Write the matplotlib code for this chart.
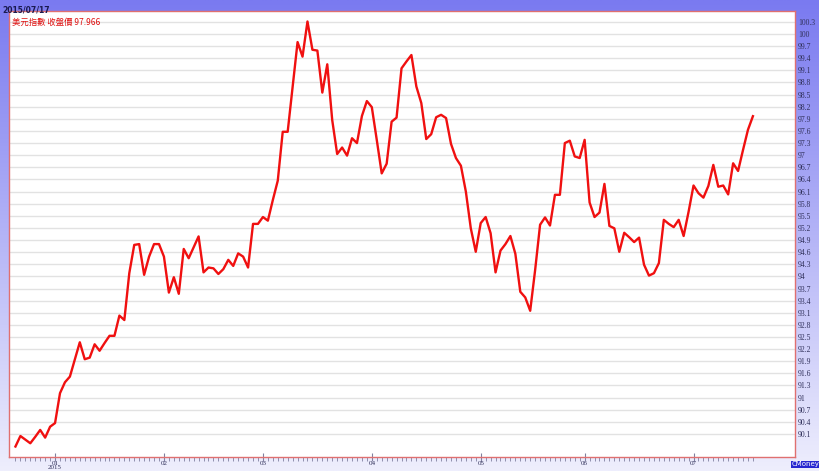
import matplotlib
matplotlib.use("Agg")
import matplotlib.pyplot as plt
import numpy as np

# weekday index 0 = 2014/12/22 ... 149 = 2015/07/17
close = [89.79, 90.05, 89.96, 89.87, 90.03, 90.20, 90.01, 90.28, 90.37, 91.11,
         91.38, 91.52, 91.95, 92.37, 91.95, 91.99, 92.32, 92.16, 92.35, 92.53,
         92.53, 93.03, 92.92, 94.08, 94.78, 94.80, 94.04, 94.49, 94.80, 94.80,
         94.49, 93.60, 93.98, 93.57, 94.68, 94.45, 94.72, 94.99, 94.10, 94.22,
         94.20, 94.06, 94.18, 94.41, 94.26, 94.57, 94.49, 94.22, 95.30, 95.30,
         95.47, 95.38, 95.89, 96.37, 97.58, 97.58, 98.70, 99.80, 99.44, 100.31,
         99.61, 99.59, 98.55, 99.25, 97.87, 97.03, 97.19, 96.99, 97.42, 97.30,
         97.97, 98.34, 98.19, 97.38, 96.55, 96.79, 97.83, 97.93, 99.15, 99.32,
         99.48, 98.70, 98.29, 97.40, 97.52, 97.94, 98.00, 97.92, 97.28, 96.93,
         96.74, 96.10, 95.19, 94.61, 95.32, 95.47, 95.07, 94.10, 94.64, 94.80,
         95.00, 94.56, 93.62, 93.48, 93.15, 94.16, 95.28, 95.46, 95.26, 96.02,
         96.02, 97.30, 97.36, 96.97, 96.93, 97.38, 95.83, 95.47, 95.58, 96.29,
         95.25, 95.19, 94.61, 95.08, 94.97, 94.85, 94.96, 94.29, 94.02, 94.08,
         94.33, 95.40, 95.30, 95.22, 95.40, 95.00, 95.60, 96.25, 96.06, 95.95,
         96.24, 96.76, 96.22, 96.25, 96.03, 96.80, 96.61, 97.13, 97.63, 97.966]
month_pos = [8, 30, 50, 72, 94, 115, 137]
month_labels = ["01\n2015", "02", "03", "04", "05", "06", "07"]
ytick_vals = [round(90.1 + 0.3 * i, 1) for i in range(35)]
title_date = "2015/07/17"
legend_txt = "美元指數 收盤價 97.966"

fig = plt.figure(figsize=(8.2, 4.71), dpi=100)

# gradient background
bg = fig.add_axes([0, 0, 1, 1], zorder=-5)
t = np.linspace(0, 1, 200)[:, None]
top = np.array([122, 122, 240]) / 255
bot = np.array([238, 238, 253]) / 255
grad = top + (bot - top) * t
grad = np.repeat(grad[:, None, :], 2, axis=1)
bg.imshow(grad, aspect="auto", extent=[0, 1, 0, 1])
bg.axis("off")

ax = fig.add_axes([0.011, 0.0297, 0.9585, 0.947])
ax.set_facecolor("white")
x = np.arange(len(close))
ax.plot(x, close, color="#f01010", lw=1.7, solid_joinstyle="round", zorder=3)

ax.set_xlim(-1.3, 157.5)
ax.set_ylim(89.53, 100.57)

ax.set_yticks(ytick_vals)
ax.set_yticklabels([f"{v:g}" for v in ytick_vals], family="Liberation Serif",
                   fontsize=5.5, color="#30305a")
ax.yaxis.tick_right()
ax.tick_params(axis="y", length=0, pad=2)
ax.grid(axis="y", color="#e2e2e2", lw=1.0)
ax.set_axisbelow(True)

ax.set_xticks(month_pos)
ax.set_xticklabels(month_labels, family="Liberation Serif", fontsize=5,
                   color="#30305a", linespacing=0.8)
ax.set_xticks(np.arange(0, 150), minor=True)
ax.tick_params(axis="x", which="major", direction="inout", length=6,
               color="#8080a0", pad=0)
ax.tick_params(axis="x", which="minor", direction="out", length=3,
               color="#8080a0")

for s in ax.spines.values():
    s.set_color("#e07070")
    s.set_linewidth(1.0)

fig.text(0.003, 0.988, title_date, fontsize=5.5, fontweight="bold",
         color="#1a1a50", va="top", family="DejaVu Sans")
ax.text(0.004, 0.985, legend_txt, transform=ax.transAxes, fontsize=6,
        color="#e01010", va="top", family=["Noto Sans CJK TC", "DejaVu Sans"])
fig.text(0.9995, 0.008, "CMoney", fontsize=5, color="white", ha="right",
         va="bottom", family="DejaVu Sans",
         bbox=dict(boxstyle="square,pad=0.1", fc="#2828d0", ec="none"))

fig.savefig("out.png", dpi=100)
